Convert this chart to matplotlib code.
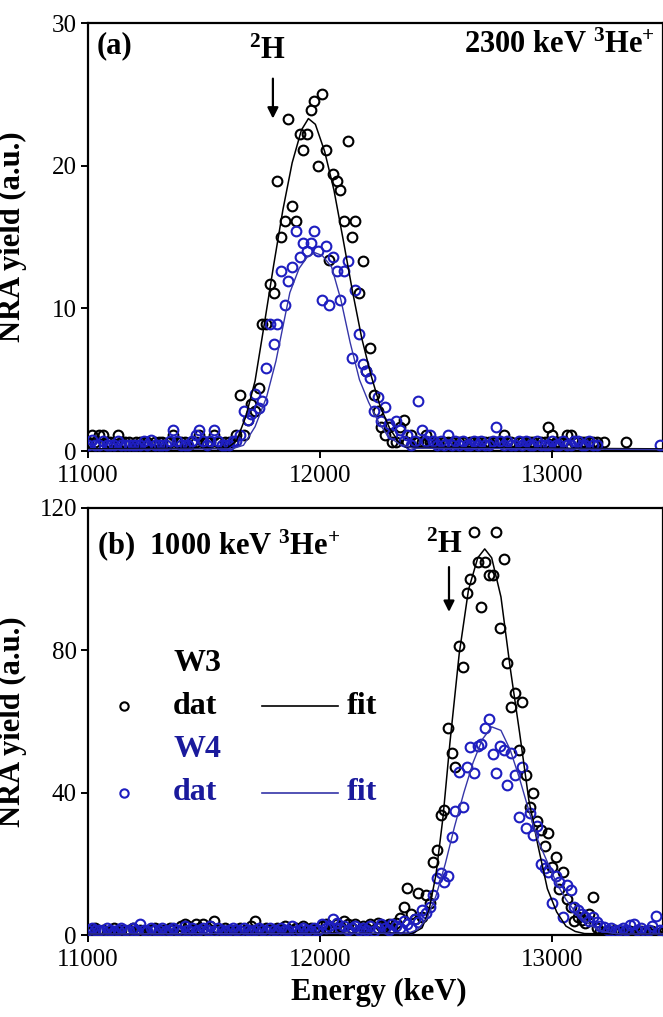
import numpy as np
import matplotlib.pyplot as plt

plt.rcParams['font.family'] = 'Liberation Serif'
plt.rcParams['mathtext.fontset'] = 'custom'
plt.rcParams['mathtext.rm'] = 'Liberation Serif'
plt.rcParams['mathtext.bf'] = 'Liberation Serif:bold'
plt.rcParams['mathtext.default'] = 'bf'

nan = np.nan

# channel energies (keV), 16 keV per channel
energy = np.arange(11000, 13481, 16)

# (a) 2300 keV 3He+ : measured yields
top_w3 = [
    0.6, 1.1, 0.6, 1.1, 1.1, 0.6, 0.6, 0.0, 1.1, 0.6,
    0.6, 0.6, 0.0, 0.6, 0.6, 0.6, 0.6, 0.0, 0.6, 0.6,
    0.6, 0.0, 0.6, 1.1, 0.6, 0.6, 0.6, 0.0, 0.6, 0.6,
    1.1, 0.6, 0.6, 0.6, 1.1, 0.6, 0.0, 0.6, 0.6, 0.6,
    1.1, 3.9, 1.1, 2.2, 3.3, 2.8, 4.4, 8.9, 8.9, 11.7,
    11.1, 18.9, 15.0, 16.1, 23.3, 17.2, 16.1, 22.2, 21.1, 22.2,
    23.9, 24.5, 20.0, 25.0, 21.1, 13.4, 19.4, 18.9, 18.3, 16.1,
    21.7, 15.0, 16.1, 11.1, 13.3, 5.6, 7.2, 3.9, 2.8, 1.7,
    1.1, 1.7, 0.6, 0.6, 1.7, 2.2, 0.6, 1.1, 0.6, 0.6,
    0.6, 1.1, 0.6, 0.6, 0.6, 0.0, 0.6, 0.6, 0.6, 0.0,
    0.6, 0.6, 0.0, 0.6, 0.6, 0.6, 0.0, 0.6, 0.6, 0.6,
    0.6, 0.6, 1.1, 0.6, 0.6, 0.0, 0.6, 0.6, 0.6, 0.6,
    0.6, 0.0, 0.6, 0.6, 1.7, 1.1, 0.6, 0.6, 0.6, 1.1,
    1.1, 0.6, 0.0, 0.6, 0.6, 0.6, 0.6, 0.6, 0.0, 0.6,
    nan, nan, nan, nan, nan, 0.6, nan, nan, nan, nan,
    nan, nan, nan, nan, nan, nan,
]
top_w4 = [
    0.4, 0.8, 0.4, 0.4, 0.7, 0.4, 0.4, 0.4, 0.7, 0.4,
    0.4, 0.4, 0.4, 0.4, 0.4, 0.7, 0.4, 0.8, 0.4, 0.4,
    0.4, 0.4, 0.7, 1.5, 0.7, 0.4, 0.4, 0.4, 0.7, 1.1,
    1.5, 0.7, 0.4, 0.7, 1.5, 0.7, 0.4, 0.4, 0.4, 0.7,
    0.7, 1.1, 2.8, 2.2, 2.6, 4.0, 3.0, 3.5, 5.8, 8.9,
    7.5, 8.9, 12.6, 10.2, 11.9, 12.9, 15.4, 13.6, 14.6, 14.0,
    14.6, 15.4, 14.0, 10.6, 14.4, 10.2, 13.6, 12.6, 10.6, 12.6,
    13.3, 6.5, 11.3, 8.2, 6.1, 5.6, 5.1, 2.8, 3.8, 2.1,
    3.1, 1.9, 1.2, 2.1, 1.5, 0.7, 1.1, 0.4, 0.7, 3.5,
    1.5, 0.7, 1.1, 0.7, 0.4, 0.7, 0.4, 1.1, 0.4, 0.7,
    0.4, 0.7, 0.4, 0.4, 0.7, 0.4, 0.7, 0.4, 0.4, 0.7,
    1.7, 0.7, 0.4, 0.7, 0.4, 0.4, 0.7, 0.4, 0.7, 0.4,
    0.4, 0.7, 0.4, 0.4, 0.4, 0.7, 0.4, 0.4, 0.7, 0.4,
    0.4, 0.7, 0.7, 0.4, 0.4, 0.7, 0.4, 0.4, nan, nan,
    nan, nan, nan, nan, nan, nan, nan, nan, nan, nan,
    nan, nan, nan, nan, 0.4, nan,
]

# (a) fitted curves
top_fit_e_w3 = [11000, 11600, 11640, 11680, 11720, 11760, 11800, 11840, 11880, 11920, 11950, 11980,
                12020, 12060, 12100, 12140, 12180, 12220, 12260, 12300, 12340, 12380, 13480]
top_fit_w3 = [0.15, 0.2, 0.7, 2.4, 4.9, 8.9, 13.0, 16.9, 20.2, 22.5, 23.3, 22.9,
              21.0, 18.3, 14.8, 11.2, 7.9, 5.3, 3.1, 1.6, 0.6, 0.25, 0.15]
top_fit_e_w4 = [11000, 11620, 11670, 11720, 11770, 11810, 11840, 11870, 11910, 11945, 11978,
                12010, 12050, 12090, 12130, 12170, 12210, 12250, 12290, 12340, 12400, 13480]
top_fit_w4 = [0.1, 0.15, 0.4, 1.7, 3.8, 6.3, 8.7, 11.1, 12.8, 13.6, 13.9,
              13.7, 12.9, 10.6, 7.6, 5.0, 3.4, 2.1, 1.1, 0.5, 0.2, 0.1]

# (b) 1000 keV 3He+ : measured yields
bot_w3 = [
    1.5, 1.0, 2.0, 1.0, 1.5, 0.5, 1.0, 2.0, 1.0, 1.5,
    1.0, 1.5, 2.0, 1.0, 1.5, 1.0, 0.5, 1.5, 2.0, 1.0,
    1.5, 1.0, 2.0, 1.5, 1.0, 2.5, 3.0, 2.5, 1.5, 3.0,
    2.0, 3.0, 1.5, 2.5, 4.0, 1.5, 1.0, 2.0, 1.5, 1.0,
    1.5, 2.0, 1.0, 1.5, 2.5, 4.0, 1.5, 1.0, 2.0, 1.5,
    1.0, 2.0, 1.5, 2.5, 1.0, 1.5, 2.0, 1.0, 2.5, 1.5,
    2.0, 1.5, 1.0, 2.5, 3.0, 1.5, 2.0, 3.0, 2.5, 4.0,
    3.0, 2.0, 3.0, 1.5, 2.5, 2.0, 3.0, 1.5, 3.5, 2.5,
    2.5, 3.0, 2.0, 3.5, 4.7, 8.0, 13.1, 6.0, 4.5, 11.7,
    5.0, 11.2, 9.0, 20.6, 23.9, 33.7, 35.1, 58.1, 51.1, 47.3,
    81.2, 75.4, 96.2, 100.0, 113.2, 104.9, 92.3, 104.9, 101.2, 101.2,
    113.2, 86.4, 105.8, 76.3, 64.0, 67.9, 52.0, 65.6, 45.0, 36.0,
    39.8, 32.0, 29.5, 25.0, 28.6, 19.0, 22.0, 13.0, 17.8, 10.0,
    8.0, 4.0, 5.0, 4.2, 3.3, 6.0, 10.8, 2.0, 1.0, 0.5,
    1.0, 0.5, 1.5, 0.5, 1.0, 0.5, 1.0, 0.5, 0.5, 1.0,
    0.5, 0.5, 1.0, 0.5, 0.5, 1.0,
]
bot_w4 = [
    1.5, 2.0, 1.5, 1.5, 1.0, 2.0, 1.5, 1.0, 1.5, 2.0,
    1.5, 1.0, 2.0, 1.5, 3.0, 1.5, 1.0, 2.0, 1.5, 1.5,
    2.0, 1.0, 1.5, 2.0, 1.5, 1.0, 2.5, 1.5, 2.0, 1.0,
    1.5, 2.0, 1.5, 2.5, 1.0, 2.0, 1.5, 1.0, 1.5, 2.0,
    1.5, 1.0, 2.0, 1.5, 1.0, 1.5, 2.0, 1.5, 1.0, 2.0,
    1.5, 1.0, 2.0, 1.5, 1.5, 2.5, 1.0, 1.5, 2.0, 1.5,
    1.0, 2.0, 1.5, 3.0, 2.0, 2.5, 4.5, 3.5, 2.0, 2.5,
    1.5, 2.0, 2.5, 1.5, 2.0, 1.5, 2.5, 1.0, 2.0, 3.0,
    2.0, 1.5, 3.0, 2.5, 2.0, 4.0, 3.0, 2.0, 4.5, 3.7,
    6.9, 6.2, 8.0, 11.2, 15.9, 17.3, 15.0, 16.5, 27.6, 34.9,
    45.9, 36.1, 47.3, 52.7, 45.4, 53.1, 53.7, 58.1, 60.6, 50.9,
    45.4, 53.1, 52.0, 42.2, 51.1, 45.0, 33.2, 47.3, 30.0, 34.2,
    28.0, 30.5, 20.0, 18.7, 17.8, 9.0, 16.5, 15.0, 5.0, 14.0,
    12.7, 8.0, 7.0, 6.0, 5.0, 4.0, 5.0, 3.7, 2.5, 2.3,
    1.5, 2.0, 1.0, 1.5, 2.0, 1.5, 2.8, 3.0, 1.5, 2.0,
    1.0, 1.5, 2.5, 5.2, 1.5, 1.0,
]

# (b) fitted curves
bot_fit_e_w3 = [11000, 12400, 12440, 12470, 12500, 12530, 12560, 12600, 12640, 12680, 12710, 12740,
                12780, 12820, 12860, 12900, 12940, 12980, 13020, 13060, 13100, 13140, 13480]
bot_fit_w3 = [0.3, 0.5, 2.0, 7.0, 17.0, 33.0, 54.0, 79.0, 97.0, 106.0, 108.5, 106.0,
              95.0, 75.0, 57.0, 38.0, 25.0, 13.0, 6.5, 2.5, 1.0, 0.4, 0.2]
bot_fit_e_w4 = [11000, 12380, 12420, 12460, 12500, 12540, 12580, 12620, 12660, 12700, 12740, 12780, 12820,
                12860, 12900, 12940, 12980, 13020, 13060, 13100, 13140, 13180, 13220, 13260, 13300, 13480]
bot_fit_w4 = [0.3, 0.5, 1.5, 4.5, 11.0, 20.0, 30.5, 40.0, 48.5, 55.0, 58.5, 57.5, 52.0,
              44.0, 35.0, 26.5, 20.5, 14.5, 10.0, 6.5, 4.0, 2.2, 1.0, 0.5, 0.3, 0.3]

xticks = [11000, 12000, 13000]
top_yticks = [0, 10, 20, 30]
bot_yticks = [0, 40, 80, 120]

BLUE = '#1e1ec0'
NAVY = '#1a1a9c'
FITBLUE = '#3535a8'

W, H = 663, 1017
fig = plt.figure(figsize=(W / 100, H / 100), dpi=100)
left = 88 / W
width = (662.5 - 88) / W
ax_a = fig.add_axes([left, 1 - 451 / H, width, 428 / H])
ax_b = fig.add_axes([left, 1 - 935 / H, width, 427 / H])
xmax = 11000 + (662.5 - 88) / 0.232


def draw_panel(ax, y3, y4, fe3, f3, fe4, f4, yticks):
    ax.plot(energy, y3, 'o', mfc='none', mec='black', ms=7, mew=1.5, zorder=2)
    ax.plot(energy, y4, 'o', mfc='none', mec=BLUE, ms=7, mew=1.5, zorder=3)
    ax.plot(fe3, f3, '-', color='black', lw=1.1, zorder=4)
    ax.plot(fe4, f4, '-', color=FITBLUE, lw=1.0, zorder=4)
    ax.set_xlim(11000, xmax)
    ax.set_ylim(yticks[0], yticks[-1])
    ax.set_xticks(xticks)
    ax.set_yticks(yticks)
    ax.tick_params(direction='out', length=5, width=1.4, labelsize=18, pad=3)
    ax.tick_params(axis='x', pad=5)
    for s in ax.spines.values():
        s.set_linewidth(1.6)
    ax.set_ylabel('NRA yield (a.u.)', fontsize=22, fontweight='bold')
    ax.yaxis.set_label_coords(-0.106, 0.5)


draw_panel(ax_a, top_w3, top_w4, top_fit_e_w3, top_fit_w3, top_fit_e_w4, top_fit_w4, top_yticks)
draw_panel(ax_b, bot_w3, bot_w4, bot_fit_e_w3, bot_fit_w3, bot_fit_e_w4, bot_fit_w4, bot_yticks)

ax_b.set_xlabel('Energy (keV)', fontsize=22, fontweight='bold')
ax_b.xaxis.set_label_coords(0.506, -0.1)

arrow = dict(arrowstyle='-|>', color='black', lw=1.6, mutation_scale=16, shrinkA=0, shrinkB=0)

# panel (a) labels
ax_a.text(0.015, 0.948, '(a)', transform=ax_a.transAxes, fontsize=22, fontweight='bold', va='center')
ax_a.text(0.987, 0.948, r'2300 keV $^{3}$He$^{+}$', transform=ax_a.transAxes, fontsize=22,
          fontweight='bold', va='center', ha='right')
ax_a.text(11775, 28.0, r'$^{2}$H', fontsize=22, fontweight='bold', ha='center', va='center')
ax_a.annotate('', xy=(11797, 23.3), xytext=(11797, 26.1), arrowprops=arrow)

# panel (b) labels
ax_b.text(0.015, 0.913, r'(b)  1000 keV $^{3}$He$^{+}$', transform=ax_b.transAxes, fontsize=22,
          fontweight='bold', va='center')
ax_b.text(12535, 109.5, r'$^{2}$H', fontsize=22, fontweight='bold', ha='center', va='center')
ax_b.annotate('', xy=(12556, 90.8), xytext=(12556, 103.4), arrowprops=arrow)

# hand-placed key
tr = ax_b.transAxes
for y, name, col, mcol, lcol in [(0.536, 'W3', 'black', 'black', 'black'),
                                 (0.333, 'W4', NAVY, BLUE, FITBLUE)]:
    ax_b.text(0.148, y + 0.101, name, transform=tr, fontsize=23, fontweight='bold', color=col, va='center')
    ax_b.plot([0.0626], [y], 'o', mfc='none', mec=mcol, ms=6, mew=1.5, transform=tr)
    ax_b.text(0.148, y, 'dat', transform=tr, fontsize=23, fontweight='bold', color=col, va='center')
    ax_b.plot([0.3026, 0.4348], [y, y], '-', color=lcol, lw=1.2, transform=tr)
    ax_b.text(0.450, y, 'fit', transform=tr, fontsize=23, fontweight='bold', color=col, va='center')

fig.savefig('out.png', dpi=100)
